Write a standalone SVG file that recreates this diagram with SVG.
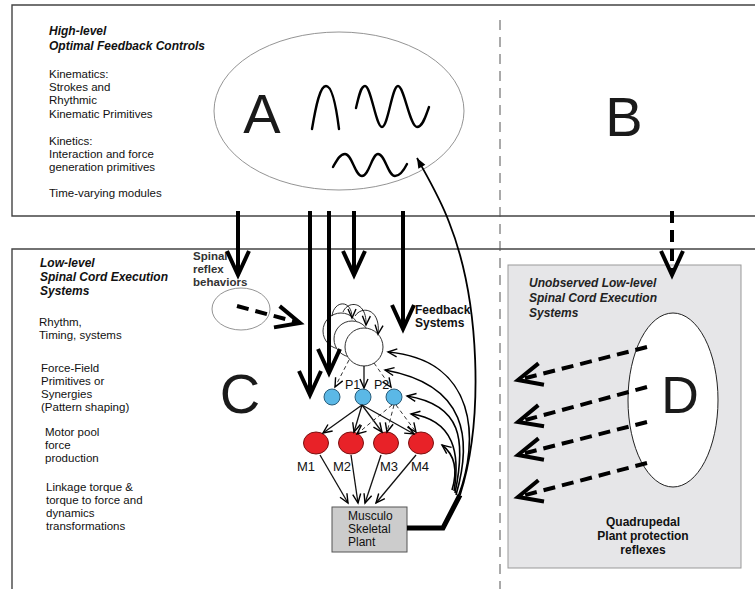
<svg xmlns="http://www.w3.org/2000/svg" width="755" height="589" viewBox="0 0 755 589">
<style>
text{font-family:"Liberation Sans",Arial,sans-serif;fill:#111}
.t{font-size:11.5px}
.bi{font-size:12px;font-weight:bold;font-style:italic}
.b{font-size:12px;font-weight:bold}
.big{font-size:56px;fill:#1a1a1a}
.frame{fill:none;stroke:#444;stroke-width:1.4}
.thick{fill:none;stroke:#000;stroke-width:4;marker-end:url(#chev)}
.thickd{fill:none;stroke:#000;stroke-width:4;stroke-dasharray:12 7;marker-end:url(#chev)}
.thin{fill:none;stroke:#111;stroke-width:1.3;marker-end:url(#open)}
.thind{fill:none;stroke:#333;stroke-width:1;stroke-dasharray:4 3;marker-end:url(#open)}
.fb{fill:none;stroke:#000;stroke-width:1.6;marker-end:url(#open)}
.wave{fill:none;stroke:#000;stroke-width:2.4;stroke-linecap:round}
.pc{fill:#5bb8e6;stroke:#2a5d7a;stroke-width:1}
.mc{fill:#e82228;stroke:#7a1010;stroke-width:1}
.cl{fill:#fff;stroke:#333;stroke-width:1}
</style>
<defs>
<marker id="chev" markerUnits="userSpaceOnUse" markerWidth="30" markerHeight="30" refX="24" refY="11" orient="auto" overflow="visible">
<path d="M0 0 L24 11 L0 22" fill="none" stroke="#000" stroke-width="4" stroke-dasharray="none"/>
</marker>
<marker id="open" markerUnits="userSpaceOnUse" markerWidth="12" markerHeight="12" refX="9" refY="4" orient="auto" overflow="visible">
<path d="M0 0 L9 4 L0 8" fill="none" stroke="#000" stroke-width="1.4" stroke-dasharray="none"/>
</marker>
<marker id="solid" markerUnits="userSpaceOnUse" markerWidth="12" markerHeight="12" refX="10" refY="4" orient="auto" overflow="visible">
<path d="M0 0 L10 4 L0 8 Z" fill="#000"/>
</marker>
</defs>

<g id="frames">
<path class="frame" d="M755 5 L12 5 L12 216 L755 216"/>
<path class="frame" d="M755 249 L12 249 L12 589"/>
<line x1="500" y1="20" x2="500" y2="589" stroke="#555" stroke-width="1" stroke-dasharray="10 7"/>
</g>

<g id="high-level-text">
<text class="bi" x="49" y="35">High-level</text>
<text class="bi" x="49" y="50">Optimal Feedback Controls</text>
<text class="t" x="49" y="78">Kinematics:</text>
<text class="t" x="49" y="91">Strokes and</text>
<text class="t" x="49" y="104">Rhythmic</text>
<text class="t" x="49" y="118">Kinematic Primitives</text>
<text class="t" x="49" y="145">Kinetics:</text>
<text class="t" x="49" y="158">Interaction and force</text>
<text class="t" x="49" y="171">generation primitives</text>
<text class="t" x="49" y="197">Time-varying modules</text>
</g>

<g id="nodeA">
<ellipse cx="339" cy="111" rx="125" ry="79" fill="none" stroke="#888" stroke-width="0.9"/>
<text class="big" x="262" y="133" text-anchor="middle">A</text>
<path class="wave" d="M312 129 C316 105 320 86 326 86 C332 86 336 105 339 129"/>
<path class="wave" d="M356 108 C359 95 361 86 365 86 C371 86 376 127 382 127 C388 127 392 86 398 86 C404 86 410 127 417 127 C423 127 426 115 429 107"/>
<path class="wave" d="M333 167 C337 160 340 154 345 154 C352 154 355 176 362 176 C369 176 372 154 378 154 C385 154 388 176 395 176 C400 176 404 170 407 164"/>
</g>

<g id="nodeB">
<text class="big" x="624" y="136" text-anchor="middle">B</text>
</g>

<g id="low-level-text">
<text class="bi" x="40" y="267">Low-level</text>
<text class="bi" x="40" y="281">Spinal Cord Execution</text>
<text class="bi" x="40" y="295">Systems</text>
<text class="t" x="39" y="326">Rhythm,</text>
<text class="t" x="39" y="339">Timing, systems</text>
<text class="t" x="41" y="372">Force-Field</text>
<text class="t" x="41" y="385">Primitives or</text>
<text class="t" x="41" y="398">Synergies</text>
<text class="t" x="41" y="411">(Pattern shaping)</text>
<text class="t" x="45" y="436">Motor pool</text>
<text class="t" x="45" y="449">force</text>
<text class="t" x="45" y="462">production</text>
<text class="t" x="46" y="491">Linkage torque &amp;</text>
<text class="t" x="46" y="504">torque to force and</text>
<text class="t" x="46" y="517">dynamics</text>
<text class="t" x="46" y="530">transformations</text>
</g>

<g id="nodeC">
<text class="big" x="240" y="413" text-anchor="middle">C</text>
</g>

<g id="spinal-reflex">
<ellipse cx="241" cy="309" rx="29" ry="21" fill="none" stroke="#888" stroke-width="0.9"/>
<text class="b" x="193" y="260" style="font-size:11.5px;fill:#333">Spinal</text>
<text class="b" x="193" y="273" style="font-size:11.5px;fill:#333">reflex</text>
<text class="b" x="193" y="286" style="font-size:11.5px;fill:#333">behaviors</text>
</g>

<g id="rhythm-cluster">
<circle class="cl" cx="341" cy="331" r="18"/>
<circle class="cl" cx="352" cy="339" r="18"/>
<circle class="cl" cx="364" cy="347" r="19"/>
<path class="thin" style="stroke-width:0.9" d="M332 316 C334 300 352 299 352 318"/>
<path class="thin" style="stroke-width:0.9" d="M343 312 C348 300 367 301 366 325"/>
<path class="thin" style="stroke-width:0.9" d="M355 316 C362 305 381 309 378 334"/>
</g>

<g id="feedback-label">
<text class="b" x="415" y="314">Feedback</text>
<text class="b" x="415" y="327">Systems</text>
</g>

<g id="P0"><circle class="pc" cx="332" cy="397" r="8"/></g>
<g id="P1"><circle class="pc" cx="363" cy="397" r="8"/><text x="345" y="389" style="font-size:12.5px">P1</text></g>
<g id="P2"><circle class="pc" cx="394" cy="397" r="8"/><text x="374" y="389" style="font-size:12.5px">P2</text></g>

<g id="M1"><ellipse class="mc" cx="316" cy="443" rx="12.5" ry="11"/><text x="297" y="471" style="font-size:13px">M1</text></g>
<g id="M2"><ellipse class="mc" cx="351" cy="443" rx="12.5" ry="11"/><text x="333" y="471" style="font-size:13px">M2</text></g>
<g id="M3"><ellipse class="mc" cx="386" cy="443" rx="12.5" ry="11"/><text x="380" y="471" style="font-size:13px">M3</text></g>
<g id="M4"><ellipse class="mc" cx="421" cy="443" rx="12.5" ry="11"/><text x="411" y="471" style="font-size:13px">M4</text></g>

<g id="plant">
<rect x="332" y="507" width="75" height="45" fill="#cccccc" stroke="#555" stroke-width="1"/>
<text x="348" y="520" style="font-size:12px">Musculo</text>
<text x="348" y="533" style="font-size:12px">Skeletal</text>
<text x="348" y="546" style="font-size:12px">Plant</text>
</g>

<g id="nodeD">
<rect x="508" y="265" width="233" height="303" fill="#e6e6e8" stroke="#999" stroke-width="1"/>
<ellipse cx="673" cy="400" rx="45" ry="87" fill="#fff" stroke="#222" stroke-width="1"/>
<text class="big" x="680" y="413" text-anchor="middle" style="font-size:52px">D</text>
<text class="bi" x="529" y="287" style="fill:#222">Unobserved Low-level</text>
<text class="bi" x="529" y="302" style="fill:#222">Spinal Cord Execution</text>
<text class="bi" x="529" y="317" style="fill:#222">Systems</text>
<text class="b" x="643" y="526" text-anchor="middle">Quadrupedal</text>
<text class="b" x="643" y="540" text-anchor="middle">Plant protection</text>
<text class="b" x="643" y="554" text-anchor="middle">reflexes</text>
</g>

<g id="connectors">
<line class="thick" x1="238" y1="211" x2="238" y2="275"/>
<line class="thick" x1="310" y1="211" x2="310" y2="395"/>
<line class="thick" x1="329" y1="211" x2="329" y2="373"/>
<line class="thick" x1="354" y1="211" x2="354" y2="275"/>
<line class="thick" x1="403" y1="211" x2="403" y2="329"/>
<line class="thickd" x1="672" y1="211" x2="672" y2="275"/>
<line class="thickd" x1="237" y1="306" x2="300" y2="323"/>
<line class="thickd" x1="647" y1="347" x2="518" y2="380"/>
<line class="thickd" x1="647" y1="387" x2="518" y2="422"/>
<line class="thickd" x1="647" y1="422" x2="518" y2="455"/>
<line class="thickd" x1="647" y1="463" x2="518" y2="497"/>

<line class="thind" x1="349" y1="360" x2="335" y2="387"/>
<line class="thin" x1="364" y1="366" x2="364" y2="388"/>
<line class="thind" x1="374" y1="363" x2="391" y2="387"/>

<line class="thin" x1="362" y1="405" x2="323" y2="433"/>
<line class="thin" x1="362" y1="405" x2="354" y2="432"/>
<line class="thin" x1="362" y1="405" x2="382" y2="432"/>
<line class="thin" x1="362" y1="405" x2="414" y2="434"/>
<line class="thind" x1="392" y1="405" x2="357" y2="434"/>
<line class="thind" x1="394" y1="405" x2="387" y2="432"/>
<line class="thind" x1="396" y1="405" x2="416" y2="432"/>

<line class="thin" x1="320" y1="455" x2="348" y2="503"/>
<line class="thin" x1="351" y1="455" x2="358" y2="503"/>
<line class="thin" x1="381" y1="455" x2="365" y2="503"/>
<line class="thin" x1="416" y1="455" x2="376" y2="503"/>

<path d="M407 528 L443 528 L460 495" fill="none" stroke="#000" stroke-width="5" stroke-linejoin="miter"/>
<path class="fb" d="M458 497 C480 440 477 360 388 352"/>
<path class="fb" d="M456 495 C472 440 468 385 385 370"/>
<path class="fb" d="M455 493 C466 440 462 405 407 396"/>
<path class="fb" d="M454 491 C460 455 455 420 411 414"/>
<path class="fb" d="M452 490 C458 470 455 455 442 445"/>
<path d="M460 495 C484 420 480 300 449 222 C440 198 428 178 417 158" fill="none" stroke="#000" stroke-width="1.8" marker-end="url(#solid)"/>
</g>
</svg>
